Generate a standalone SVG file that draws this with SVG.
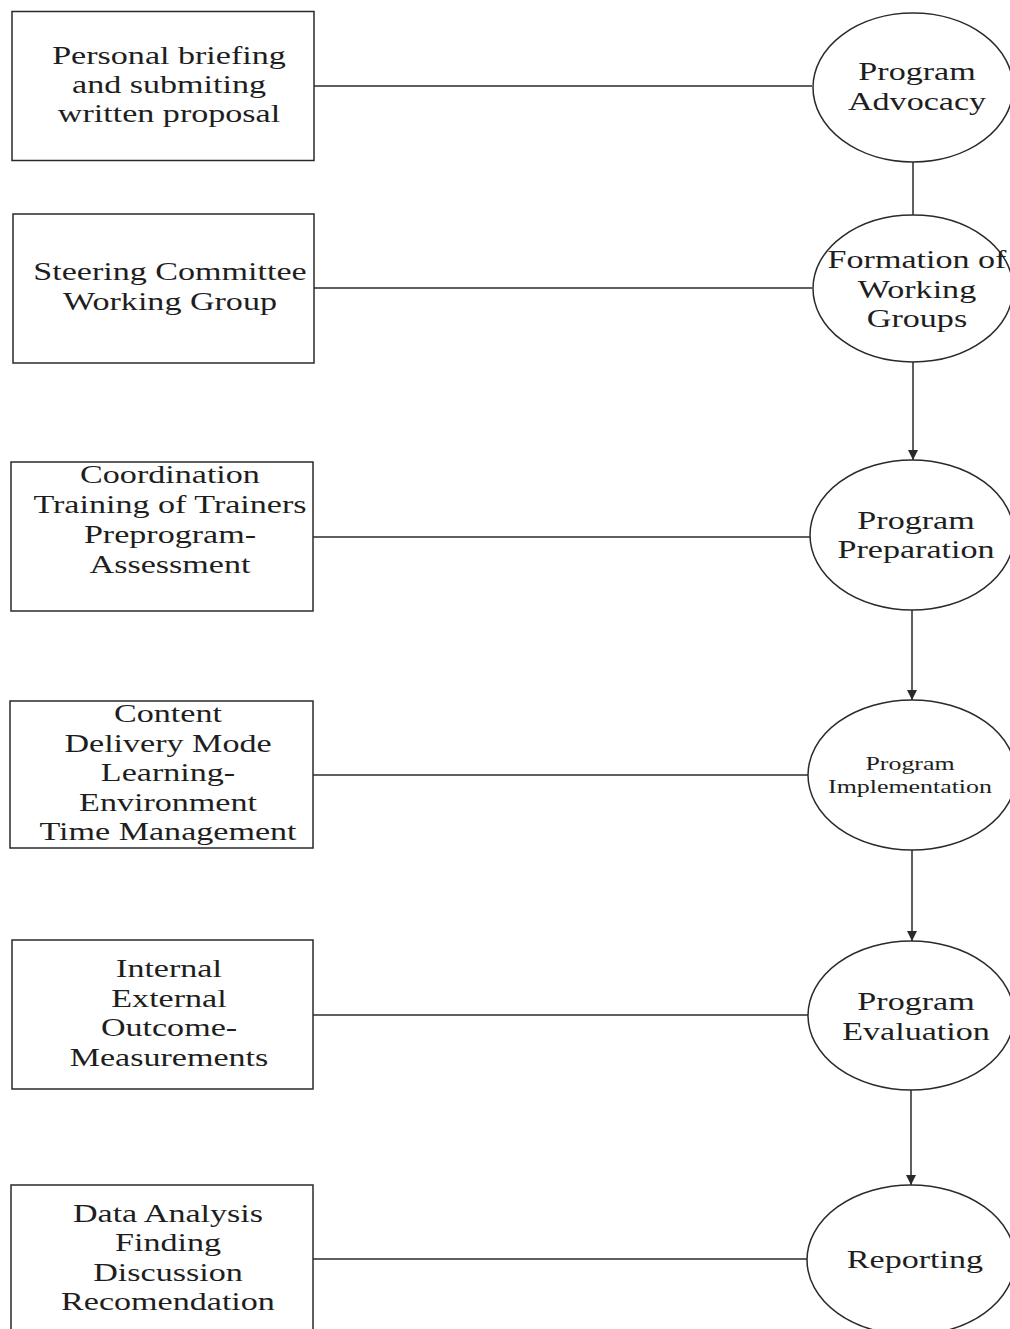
<svg xmlns="http://www.w3.org/2000/svg" width="1010" height="1329" viewBox="0 0 1010 1329">
<style>
  .box { fill: none; stroke: #2a2a2a; stroke-width: 1.5; }
  .ell { fill: none; stroke: #2a2a2a; stroke-width: 1.5; }
  .con { fill: none; stroke: #2a2a2a; stroke-width: 1.5; }
  text { font-family: "Liberation Serif", "Times New Roman", serif; font-size: 25px; fill: #1e1e1e; text-anchor: middle; }
  .small { font-size: 19px; }
</style>
<defs>
  <marker id="arr" viewBox="0 0 10 10" refX="10" refY="5" markerWidth="11" markerHeight="10" markerUnits="userSpaceOnUse" orient="auto">
    <path d="M0,0 L10,5 L0,10 Z" fill="#2a2a2a"/>
  </marker>
</defs>
<rect width="1010" height="1329" fill="#ffffff"/>

<g id="connectors">
  <line class="con" x1="314" y1="86" x2="812" y2="86"/>
  <line class="con" x1="314" y1="288" x2="812" y2="288"/>
  <line class="con" x1="313" y1="537" x2="810" y2="537"/>
  <line class="con" x1="313" y1="775" x2="808" y2="775"/>
  <line class="con" x1="313" y1="1015" x2="808" y2="1015"/>
  <line class="con" x1="313" y1="1259" x2="807" y2="1259"/>
  <line class="con" x1="913" y1="162" x2="913" y2="215"/>
  <line class="con" x1="913" y1="362" x2="913" y2="460" marker-end="url(#arr)"/>
  <line class="con" x1="912" y1="610" x2="912" y2="700" marker-end="url(#arr)"/>
  <line class="con" x1="912" y1="850" x2="912" y2="941" marker-end="url(#arr)"/>
  <line class="con" x1="911" y1="1090" x2="911" y2="1185" marker-end="url(#arr)"/>
</g>

<g id="box1">
  <rect class="box" x="12" y="11.5" width="302" height="149"/>
  <g transform="translate(169 0) scale(1.363 1)">
    <text x="0" y="64">Personal briefing</text>
    <text x="0" y="93">and submiting</text>
    <text x="0" y="122">written proposal</text>
  </g>
</g>
<g id="box2">
  <rect class="box" x="13" y="214" width="301" height="149"/>
  <g transform="translate(170 0) scale(1.363 1)">
    <text x="0" y="280">Steering Committee</text>
    <text x="0" y="310">Working Group</text>
  </g>
</g>
<g id="box3">
  <rect class="box" x="11" y="462" width="302" height="149"/>
  <g transform="translate(170 0) scale(1.363 1)">
    <text x="0" y="483">Coordination</text>
    <text x="0" y="513">Training of Trainers</text>
    <text x="0" y="543">Preprogram-</text>
    <text x="0" y="573">Assessment</text>
  </g>
</g>
<g id="box4">
  <rect class="box" x="10" y="701" width="303" height="147"/>
  <g transform="translate(168 0) scale(1.363 1)">
    <text x="0" y="722">Content</text>
    <text x="0" y="752">Delivery Mode</text>
    <text x="0" y="781">Learning-</text>
    <text x="0" y="811">Environment</text>
    <text x="0" y="840">Time Management</text>
  </g>
</g>
<g id="box5">
  <rect class="box" x="12" y="940" width="301" height="149"/>
  <g transform="translate(169 0) scale(1.363 1)">
    <text x="0" y="977">Internal</text>
    <text x="0" y="1007">External</text>
    <text x="0" y="1036">Outcome-</text>
    <text x="0" y="1066">Measurements</text>
  </g>
</g>
<g id="box6">
  <rect class="box" x="11" y="1185" width="302" height="160"/>
  <g transform="translate(168 0) scale(1.363 1)">
    <text x="0" y="1222">Data Analysis</text>
    <text x="0" y="1251">Finding</text>
    <text x="0" y="1281">Discussion</text>
    <text x="0" y="1310">Recomendation</text>
  </g>
</g>

<g id="advocacy">
  <ellipse class="ell" cx="913" cy="87.5" rx="100" ry="74.5"/>
  <g transform="translate(917 0) scale(1.363 1)">
    <text x="0" y="80">Program</text>
    <text x="0" y="110">Advocacy</text>
  </g>
</g>
<g id="formation">
  <ellipse class="ell" cx="913" cy="288.5" rx="100" ry="73.5"/>
  <g transform="translate(917 0) scale(1.363 1)">
    <text x="0" y="268">Formation of</text>
    <text x="0" y="298">Working</text>
    <text x="0" y="327">Groups</text>
  </g>
</g>
<g id="preparation">
  <ellipse class="ell" cx="912" cy="535" rx="102" ry="75"/>
  <g transform="translate(916 0) scale(1.363 1)">
    <text x="0" y="529">Program</text>
    <text x="0" y="558">Preparation</text>
  </g>
</g>
<g id="implementation">
  <ellipse class="ell" cx="912" cy="775" rx="104" ry="75"/>
  <g transform="translate(910 0) scale(1.363 1)">
    <text class="small" x="0" y="770">Program</text>
    <text class="small" x="0" y="793">Implementation</text>
  </g>
</g>
<g id="evaluation">
  <ellipse class="ell" cx="911" cy="1015.5" rx="103" ry="74.5"/>
  <g transform="translate(916 0) scale(1.363 1)">
    <text x="0" y="1010">Program</text>
    <text x="0" y="1040">Evaluation</text>
  </g>
</g>
<g id="reporting">
  <ellipse class="ell" cx="911" cy="1260" rx="104" ry="75"/>
  <g transform="translate(915 0) scale(1.363 1)">
    <text x="0" y="1268">Reporting</text>
  </g>
</g>
</svg>
